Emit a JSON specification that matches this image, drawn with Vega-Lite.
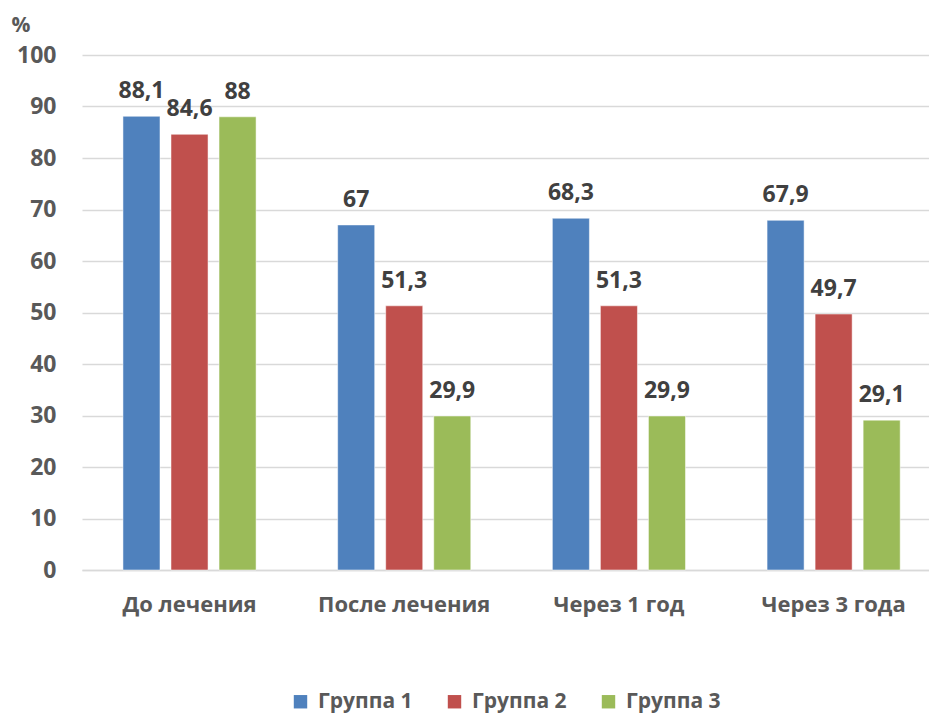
{
  "$schema": "https://vega.github.io/schema/vega-lite/v6.json",
  "width": 847,
  "height": 515,
  "autosize": {"type": "none"},
  "padding": {"left": 82, "top": 55, "right": 0, "bottom": 145},
  "background": "white",
  "config": {
    "locale": {"number": {"decimal": ",", "thousands": " ", "grouping": [3], "currency": ["", ""]}},
    "font": "Open Sans",
    "view": {"stroke": null}
  },
  "data": {
    "values": [
      {"period": "До лечения", "group": "Группа 1", "value": 88.1},
      {"period": "До лечения", "group": "Группа 2", "value": 84.6},
      {"period": "До лечения", "group": "Группа 3", "value": 88},
      {"period": "После лечения", "group": "Группа 1", "value": 67},
      {"period": "После лечения", "group": "Группа 2", "value": 51.3},
      {"period": "После лечения", "group": "Группа 3", "value": 29.9},
      {"period": "Через 1 год", "group": "Группа 1", "value": 68.3},
      {"period": "Через 1 год", "group": "Группа 2", "value": 51.3},
      {"period": "Через 1 год", "group": "Группа 3", "value": 29.9},
      {"period": "Через 3 года", "group": "Группа 1", "value": 67.9},
      {"period": "Через 3 года", "group": "Группа 2", "value": 49.7},
      {"period": "Через 3 года", "group": "Группа 3", "value": 29.1}
    ]
  },
  "encoding": {
    "x": {
      "field": "period", "type": "nominal", "sort": null,
      "scale": {"paddingInner": 0.38, "paddingOuter": 0.1625, "align": 0.587},
      "axis": {
        "title": null, "labelAngle": 0, "labelFont": "Open Sans", "labelFontWeight": "bold",
        "labelFontSize": 22, "labelColor": "#595959", "labelPadding": 24,
        "ticks": false, "domainColor": "#d9d9d9", "domainWidth": 1.5
      }
    },
    "xOffset": {"field": "group", "type": "nominal", "scale": {"paddingInner": 0.229, "paddingOuter": 0}},
    "y": {
      "field": "value", "type": "quantitative",
      "scale": {"domain": [0, 100], "nice": false},
      "axis": {
        "values": [0, 10, 20, 30, 40, 50, 60, 70, 80, 90, 100],
        "title": "%", "titleAngle": 0, "titleX": -71, "titleY": -30, "titleAlign": "left",
        "titleBaseline": "middle", "titleFontSize": 21, "titleFontWeight": "bold", "titleColor": "#595959",
        "labelFontSize": 23, "labelFontWeight": "bold", "labelColor": "#595959", "labelPadding": 26,
        "ticks": false, "domain": false, "gridColor": "#d9d9d9", "gridWidth": 1.5
      }
    }
  },
  "layer": [
    {
      "mark": {"type": "bar", "stroke": "white", "strokeWidth": 0.5},
      "encoding": {
        "color": {
          "field": "group", "type": "nominal",
          "scale": {"range": ["#4F81BD", "#C0504D", "#9BBB59"]},
          "legend": {
            "title": null, "orient": "none", "direction": "horizontal",
            "legendX": 208, "legendY": 636, "symbolType": "square", "symbolSize": 180,
            "symbolStrokeWidth": 0, "labelFontSize": 21, "labelFontWeight": "bold",
            "labelColor": "#595959", "columnPadding": 31, "labelOffset": 7
          }
        }
      }
    },
    {
      "mark": {"type": "text", "baseline": "alphabetic", "dy": -18, "fontSize": 23, "fontWeight": "bold", "color": "#404040"},
      "encoding": {
        "text": {"field": "value", "type": "quantitative", "format": ".1~f"}
      }
    }
  ]
}
